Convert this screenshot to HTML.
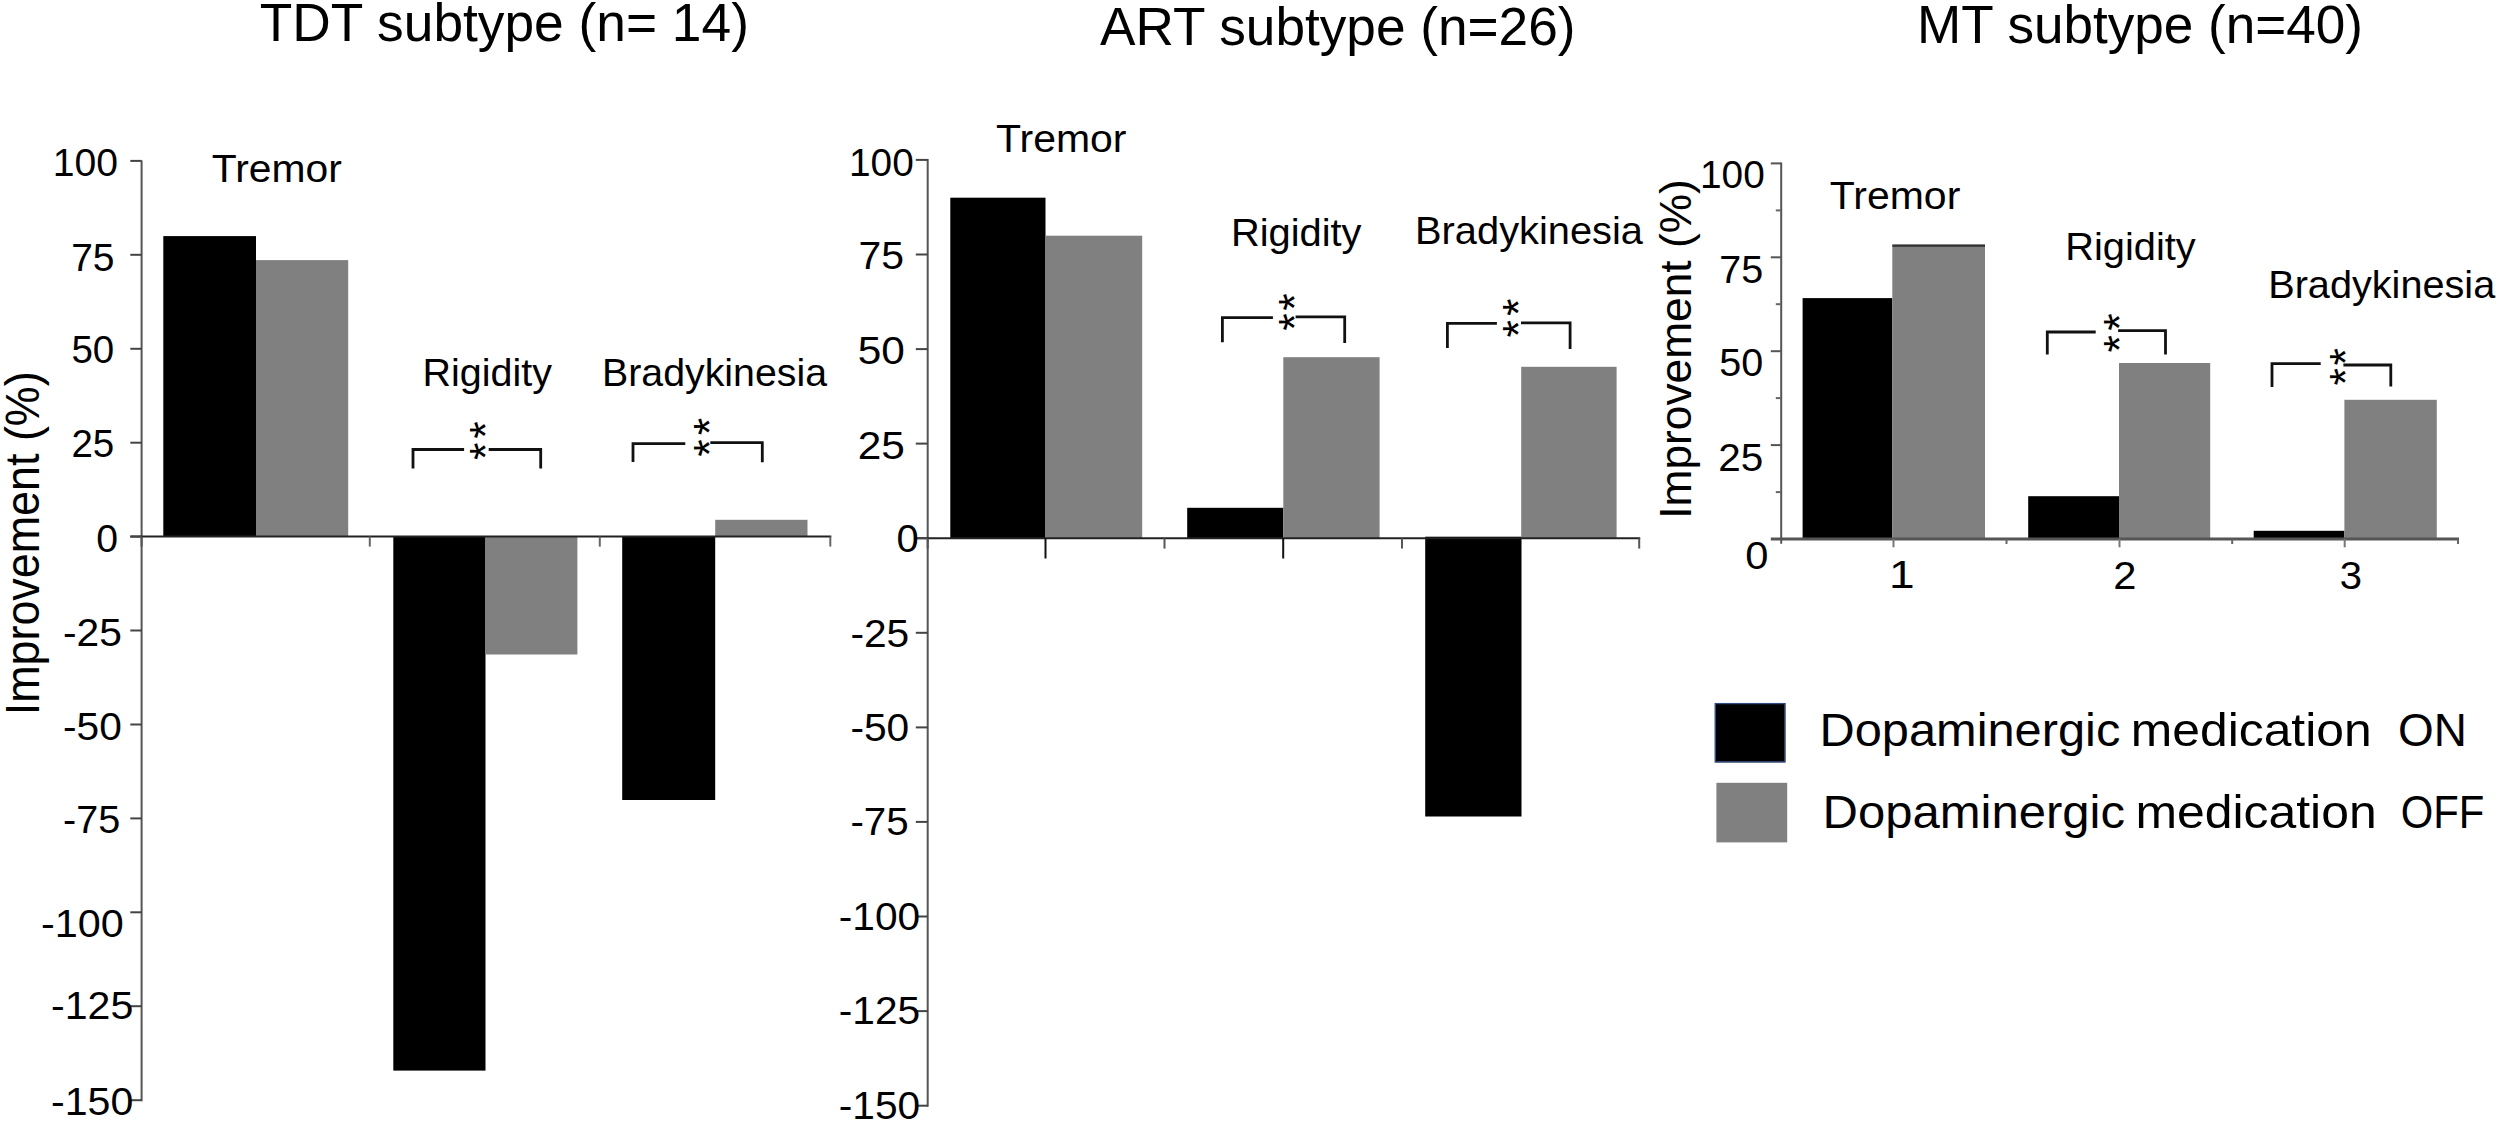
<!DOCTYPE html>
<html lang="en">
<head>
<meta charset="utf-8">
<title>Improvement by subtype</title>
<style>
html,body{margin:0;padding:0;background:#fff;}
body{width:2500px;height:1124px;overflow:hidden;}
svg{display:block;}
text{font-family:"Liberation Sans", sans-serif;fill:#000;}
</style>
</head>
<body>
<svg width="2500" height="1124" viewBox="0 0 2500 1124">
<rect x="0" y="0" width="2500" height="1124" fill="#fff"/>
<text x="259.70" y="40.50" font-size="54" textLength="489.21" lengthAdjust="spacingAndGlyphs">TDT subtype (n= 14)</text>
<text x="1100.00" y="44.80" font-size="54" textLength="475.50" lengthAdjust="spacingAndGlyphs">ART subtype (n=26)</text>
<text x="1917.00" y="43.40" font-size="54" textLength="446.00" lengthAdjust="spacingAndGlyphs">MT subtype (n=40)</text>
<rect x="163.3" y="236.1" width="92.7" height="300.5" fill="#000"/>
<rect x="256.0" y="260.1" width="92.2" height="276.5" fill="#808080"/>
<rect x="393.3" y="536.6" width="92.2" height="534.0" fill="#000"/>
<rect x="485.5" y="536.6" width="91.9" height="117.9" fill="#808080"/>
<rect x="622.2" y="536.6" width="93.0" height="263.4" fill="#000"/>
<rect x="715.2" y="519.8" width="92.3" height="16.8" fill="#808080"/>
<line x1="141.6" y1="160.4" x2="141.6" y2="1101.2" stroke="#555" stroke-width="2"/>
<line x1="130.3" y1="536.6" x2="831.3" y2="536.6" stroke="#222" stroke-width="2"/>
<line x1="130.3" y1="160.9" x2="141.6" y2="160.9" stroke="#444" stroke-width="2"/>
<line x1="130.3" y1="254.8" x2="141.6" y2="254.8" stroke="#444" stroke-width="2"/>
<line x1="130.3" y1="348.8" x2="141.6" y2="348.8" stroke="#444" stroke-width="2"/>
<line x1="130.3" y1="442.7" x2="141.6" y2="442.7" stroke="#444" stroke-width="2"/>
<line x1="130.3" y1="536.6" x2="141.6" y2="536.6" stroke="#444" stroke-width="2"/>
<line x1="130.3" y1="630.5" x2="141.6" y2="630.5" stroke="#444" stroke-width="2"/>
<line x1="130.3" y1="724.5" x2="141.6" y2="724.5" stroke="#444" stroke-width="2"/>
<line x1="130.3" y1="818.4" x2="141.6" y2="818.4" stroke="#444" stroke-width="2"/>
<line x1="130.3" y1="912.3" x2="141.6" y2="912.3" stroke="#444" stroke-width="2"/>
<line x1="130.3" y1="1006.2" x2="141.6" y2="1006.2" stroke="#444" stroke-width="2"/>
<line x1="130.3" y1="1100.2" x2="141.6" y2="1100.2" stroke="#444" stroke-width="2"/>
<line x1="369.8" y1="536.6" x2="369.8" y2="546.6" stroke="#666" stroke-width="2"/>
<line x1="599.8" y1="536.6" x2="599.8" y2="546.6" stroke="#666" stroke-width="2"/>
<line x1="830.3" y1="536.6" x2="830.3" y2="546.6" stroke="#666" stroke-width="2"/>
<line x1="141.6" y1="536.6" x2="141.6" y2="546.6" stroke="#555" stroke-width="2"/>
<text x="52.80" y="176.00" font-size="38.5" textLength="65.33" lengthAdjust="spacingAndGlyphs">100</text>
<text x="71.20" y="270.60" font-size="38.5" textLength="43.37" lengthAdjust="spacingAndGlyphs">75</text>
<text x="71.40" y="363.20" font-size="38.5" textLength="42.82" lengthAdjust="spacingAndGlyphs">50</text>
<text x="71.40" y="457.40" font-size="38.5" textLength="42.82" lengthAdjust="spacingAndGlyphs">25</text>
<text x="96.20" y="551.80" font-size="38.5" textLength="21.82" lengthAdjust="spacingAndGlyphs">0</text>
<text x="63.00" y="645.60" font-size="38.5" textLength="58.84" lengthAdjust="spacingAndGlyphs">-25</text>
<text x="63.00" y="739.60" font-size="38.5" textLength="58.79" lengthAdjust="spacingAndGlyphs">-50</text>
<text x="63.00" y="832.60" font-size="38.5" textLength="57.23" lengthAdjust="spacingAndGlyphs">-75</text>
<text x="41.00" y="937.00" font-size="38.5" textLength="82.78" lengthAdjust="spacingAndGlyphs">-100</text>
<text x="51.00" y="1018.60" font-size="38.5" textLength="82.35" lengthAdjust="spacingAndGlyphs">-125</text>
<text x="51.00" y="1115.00" font-size="38.5" textLength="82.35" lengthAdjust="spacingAndGlyphs">-150</text>
<text x="211.80" y="182.20" font-size="38.5" textLength="130.02" lengthAdjust="spacingAndGlyphs">Tremor</text>
<text x="422.50" y="385.60" font-size="38.5" textLength="129.49" lengthAdjust="spacingAndGlyphs">Rigidity</text>
<text x="602.00" y="385.60" font-size="38.5" textLength="224.99" lengthAdjust="spacingAndGlyphs">Bradykinesia</text>
<path d="M413.0 468.6V449.5H464.1M488.7 449.5H540.7V468.6" fill="none" stroke="#111" stroke-width="2.8"/>
<text transform="translate(501.0 429.9) rotate(-90)" font-size="45" text-anchor="middle">*</text>
<text transform="translate(501.0 451.2) rotate(-90)" font-size="45" text-anchor="middle">*</text>
<path d="M633.0 462.0V443.6H685.3M710.3 442.7H762.3V462.3" fill="none" stroke="#111" stroke-width="2.8"/>
<text transform="translate(724.8 426.6) rotate(-90)" font-size="45" text-anchor="middle">*</text>
<text transform="translate(724.8 448.1) rotate(-90)" font-size="45" text-anchor="middle">*</text>
<text transform="translate(39.00 715.30) rotate(-90)" font-size="47.5" textLength="344.00" lengthAdjust="spacingAndGlyphs">Improvement (%)</text>
<rect x="950.3" y="197.7" width="95.2" height="340.5" fill="#000"/>
<rect x="1045.5" y="235.7" width="96.7" height="302.5" fill="#808080"/>
<rect x="1187.2" y="507.8" width="96.1" height="30.4" fill="#000"/>
<rect x="1283.3" y="357.2" width="96.3" height="181.0" fill="#808080"/>
<rect x="1425.2" y="536.7" width="96.3" height="279.8" fill="#000"/>
<rect x="1521.2" y="366.8" width="95.4" height="171.4" fill="#808080"/>
<line x1="927.7" y1="159.0" x2="927.7" y2="1106.8" stroke="#555" stroke-width="2"/>
<line x1="915.8" y1="538.2" x2="1640.2" y2="538.2" stroke="#222" stroke-width="2"/>
<line x1="915.8" y1="159.9" x2="927.7" y2="159.9" stroke="#444" stroke-width="2"/>
<line x1="915.8" y1="254.5" x2="927.7" y2="254.5" stroke="#444" stroke-width="2"/>
<line x1="915.8" y1="349.1" x2="927.7" y2="349.1" stroke="#444" stroke-width="2"/>
<line x1="915.8" y1="443.6" x2="927.7" y2="443.6" stroke="#444" stroke-width="2"/>
<line x1="915.8" y1="538.2" x2="927.7" y2="538.2" stroke="#444" stroke-width="2"/>
<line x1="915.8" y1="632.8" x2="927.7" y2="632.8" stroke="#444" stroke-width="2"/>
<line x1="915.8" y1="727.4" x2="927.7" y2="727.4" stroke="#444" stroke-width="2"/>
<line x1="915.8" y1="821.9" x2="927.7" y2="821.9" stroke="#444" stroke-width="2"/>
<line x1="915.8" y1="916.5" x2="927.7" y2="916.5" stroke="#444" stroke-width="2"/>
<line x1="915.8" y1="1011.1" x2="927.7" y2="1011.1" stroke="#444" stroke-width="2"/>
<line x1="915.8" y1="1105.7" x2="927.7" y2="1105.7" stroke="#444" stroke-width="2"/>
<line x1="1045.5" y1="538.2" x2="1045.5" y2="558.5" stroke="#111" stroke-width="2"/>
<line x1="1283.2" y1="538.2" x2="1283.2" y2="558.5" stroke="#111" stroke-width="2"/>
<line x1="1164.5" y1="538.2" x2="1164.5" y2="548.6" stroke="#555" stroke-width="2"/>
<line x1="1402.0" y1="538.2" x2="1402.0" y2="548.6" stroke="#555" stroke-width="2"/>
<line x1="1639.2" y1="538.2" x2="1639.2" y2="548.6" stroke="#555" stroke-width="2"/>
<line x1="927.7" y1="538.2" x2="927.7" y2="548.6" stroke="#555" stroke-width="2"/>
<text x="849.00" y="176.00" font-size="38.5" textLength="64.76" lengthAdjust="spacingAndGlyphs">100</text>
<text x="858.40" y="269.00" font-size="38.5" textLength="45.52" lengthAdjust="spacingAndGlyphs">75</text>
<text x="857.80" y="363.60" font-size="38.5" textLength="47.13" lengthAdjust="spacingAndGlyphs">50</text>
<text x="857.80" y="459.40" font-size="38.5" textLength="47.13" lengthAdjust="spacingAndGlyphs">25</text>
<text x="896.60" y="552.00" font-size="38.5" textLength="22.26" lengthAdjust="spacingAndGlyphs">0</text>
<text x="850.40" y="646.60" font-size="38.5" textLength="58.87" lengthAdjust="spacingAndGlyphs">-25</text>
<text x="850.40" y="740.80" font-size="38.5" textLength="58.85" lengthAdjust="spacingAndGlyphs">-50</text>
<text x="850.40" y="835.40" font-size="38.5" textLength="58.32" lengthAdjust="spacingAndGlyphs">-75</text>
<text x="838.80" y="930.40" font-size="38.5" textLength="81.43" lengthAdjust="spacingAndGlyphs">-100</text>
<text x="838.80" y="1024.40" font-size="38.5" textLength="81.43" lengthAdjust="spacingAndGlyphs">-125</text>
<text x="838.80" y="1119.00" font-size="38.5" textLength="81.43" lengthAdjust="spacingAndGlyphs">-150</text>
<text x="996.00" y="152.20" font-size="38.5" textLength="130.52" lengthAdjust="spacingAndGlyphs">Tremor</text>
<text x="1231.00" y="246.10" font-size="38.5" textLength="130.53" lengthAdjust="spacingAndGlyphs">Rigidity</text>
<text x="1415.00" y="244.40" font-size="38.5" textLength="228.02" lengthAdjust="spacingAndGlyphs">Bradykinesia</text>
<path d="M1222.4 342.3V317.7H1272.9M1295.6 316.8H1344.7V343.0" fill="none" stroke="#111" stroke-width="2.8"/>
<text transform="translate(1310.0 302.1) rotate(-90)" font-size="45" text-anchor="middle">*</text>
<text transform="translate(1310.0 322.0) rotate(-90)" font-size="45" text-anchor="middle">*</text>
<path d="M1447.4 348.0V323.3H1496.9M1521.0 322.8H1570.1V348.9" fill="none" stroke="#111" stroke-width="2.8"/>
<text transform="translate(1533.5 307.3) rotate(-90)" font-size="45" text-anchor="middle">*</text>
<text transform="translate(1533.5 328.8) rotate(-90)" font-size="45" text-anchor="middle">*</text>
<rect x="1802.6" y="298.1" width="89.7" height="240.9" fill="#000"/>
<rect x="1892.3" y="245.3" width="92.7" height="293.7" fill="#808080"/>
<rect x="1892.3" y="244.4" width="92.7" height="2.4" fill="#333"/>
<rect x="2028.2" y="496.2" width="90.8" height="42.8" fill="#000"/>
<rect x="2119.0" y="363.0" width="91.2" height="176.0" fill="#808080"/>
<rect x="2253.7" y="530.8" width="90.7" height="8.2" fill="#000"/>
<rect x="2344.4" y="399.8" width="92.4" height="139.2" fill="#808080"/>
<line x1="1781.2" y1="162.4" x2="1781.2" y2="543.8" stroke="#555" stroke-width="2"/>
<line x1="1770.8" y1="539.0" x2="2459.0" y2="539.0" stroke="#555" stroke-width="3"/>
<line x1="1770.8" y1="163.4" x2="1781.2" y2="163.4" stroke="#555" stroke-width="2"/>
<line x1="1770.8" y1="257.3" x2="1781.2" y2="257.3" stroke="#555" stroke-width="2"/>
<line x1="1770.8" y1="351.2" x2="1781.2" y2="351.2" stroke="#555" stroke-width="2"/>
<line x1="1770.8" y1="445.1" x2="1781.2" y2="445.1" stroke="#555" stroke-width="2"/>
<line x1="1775.8" y1="210.4" x2="1781.2" y2="210.4" stroke="#666" stroke-width="2"/>
<line x1="1775.8" y1="304.2" x2="1781.2" y2="304.2" stroke="#666" stroke-width="2"/>
<line x1="1775.8" y1="398.1" x2="1781.2" y2="398.1" stroke="#666" stroke-width="2"/>
<line x1="1775.8" y1="492.1" x2="1781.2" y2="492.1" stroke="#666" stroke-width="2"/>
<line x1="1893.5" y1="539.0" x2="1893.5" y2="547.3" stroke="#777" stroke-width="2"/>
<line x1="2119.5" y1="539.0" x2="2119.5" y2="547.3" stroke="#777" stroke-width="2"/>
<line x1="2344.7" y1="539.0" x2="2344.7" y2="547.3" stroke="#777" stroke-width="2"/>
<line x1="2006.5" y1="539.0" x2="2006.5" y2="544.0" stroke="#666" stroke-width="2"/>
<line x1="2232.2" y1="539.0" x2="2232.2" y2="544.0" stroke="#666" stroke-width="2"/>
<line x1="2458.0" y1="539.0" x2="2458.0" y2="544.0" stroke="#666" stroke-width="2"/>
<text x="1700.00" y="187.80" font-size="38.5" textLength="64.76" lengthAdjust="spacingAndGlyphs">100</text>
<text x="1719.20" y="283.40" font-size="38.5" textLength="43.94" lengthAdjust="spacingAndGlyphs">75</text>
<text x="1719.20" y="376.20" font-size="38.5" textLength="43.95" lengthAdjust="spacingAndGlyphs">50</text>
<text x="1718.20" y="470.80" font-size="38.5" textLength="45.02" lengthAdjust="spacingAndGlyphs">25</text>
<text x="1745.20" y="569.20" font-size="38.5" textLength="23.21" lengthAdjust="spacingAndGlyphs">0</text>
<text x="1889.00" y="588.40" font-size="38.5" textLength="25.63" lengthAdjust="spacingAndGlyphs">1</text>
<text x="2113.20" y="588.60" font-size="38.5" textLength="23.23" lengthAdjust="spacingAndGlyphs">2</text>
<text x="2339.80" y="589.00" font-size="38.5" textLength="22.25" lengthAdjust="spacingAndGlyphs">3</text>
<text x="1829.80" y="209.20" font-size="38.5" textLength="130.51" lengthAdjust="spacingAndGlyphs">Tremor</text>
<text x="2065.20" y="260.00" font-size="38.5" textLength="130.53" lengthAdjust="spacingAndGlyphs">Rigidity</text>
<text x="2268.20" y="297.50" font-size="38.5" textLength="227.02" lengthAdjust="spacingAndGlyphs">Bradykinesia</text>
<path d="M2047.3 354.4V332.0H2095.7M2118.1 330.7H2165.5V354.4" fill="none" stroke="#111" stroke-width="2.8"/>
<text transform="translate(2135.4 322.0) rotate(-90)" font-size="45" text-anchor="middle">*</text>
<text transform="translate(2135.4 343.8) rotate(-90)" font-size="45" text-anchor="middle">*</text>
<path d="M2272.0 387.1V363.6H2320.7M2343.4 365.0H2390.8V386.5" fill="none" stroke="#111" stroke-width="2.8"/>
<text transform="translate(2361.1 356.8) rotate(-90)" font-size="45" text-anchor="middle">*</text>
<text transform="translate(2361.1 376.7) rotate(-90)" font-size="45" text-anchor="middle">*</text>
<text transform="translate(1691.40 518.70) rotate(-90)" font-size="45" textLength="339.50" lengthAdjust="spacingAndGlyphs">Improvement (%)</text>
<rect x="1714.8" y="703.0" width="70.6" height="59.4" fill="#000"/>
<rect x="1715.4" y="703.6" width="69.4" height="58.2" fill="none" stroke="#2f4d80" stroke-width="1.3"/>
<rect x="1716.4" y="782.8" width="70.8" height="59.6" fill="#808080"/>
<text x="1819.50" y="745.90" font-size="47" textLength="300.81" lengthAdjust="spacingAndGlyphs">Dopaminergic</text>
<text x="2130.80" y="745.90" font-size="47" textLength="240.87" lengthAdjust="spacingAndGlyphs">medication</text>
<text x="2398.00" y="745.90" font-size="47" textLength="68.88" lengthAdjust="spacingAndGlyphs">ON</text>
<text x="1822.50" y="827.60" font-size="47" textLength="302.41" lengthAdjust="spacingAndGlyphs">Dopaminergic</text>
<text x="2135.40" y="827.60" font-size="47" textLength="241.29" lengthAdjust="spacingAndGlyphs">medication</text>
<text x="2400.80" y="827.60" font-size="47" textLength="83.58" lengthAdjust="spacingAndGlyphs">OFF</text>
</svg>
</body>
</html>
